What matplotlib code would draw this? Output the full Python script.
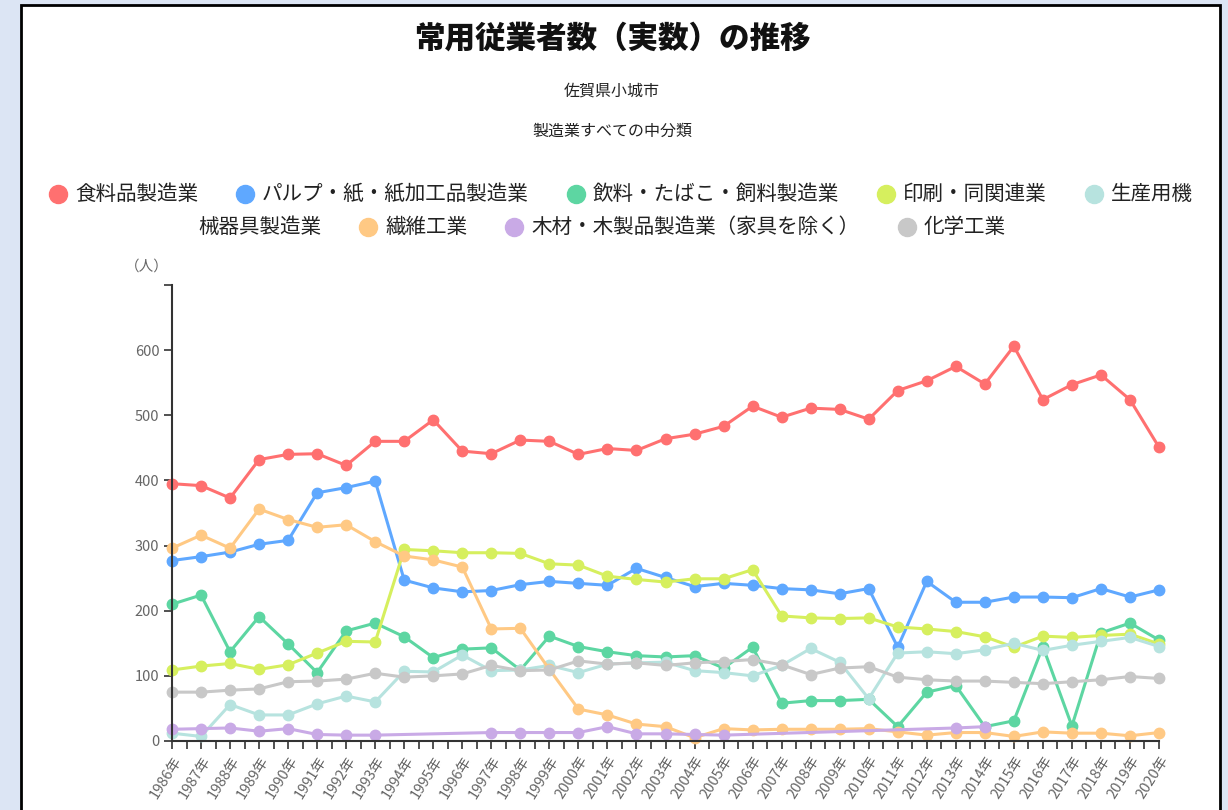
import numpy as np
import matplotlib
matplotlib.use('Agg')
import matplotlib.pyplot as plt
from matplotlib.patches import Rectangle
from matplotlib.lines import Line2D

plt.rcParams['font.family'] = ['Noto Sans CJK JP', 'DejaVu Sans']

nan = np.nan
years = np.arange(1986, 2021)
year_labels = [f'{y}年' for y in years]

names = ['食料品製造業', 'パルプ・紙・紙加工品製造業', '飲料・たばこ・飼料製造業', '印刷・同関連業',
         '生産用機械器具製造業', '繊維工業', '木材・木製品製造業（家具を除く）', '化学工業']
colors = ['#ff7070', '#5fa8ff', '#5dd6a2', '#d6ef5e', '#b7e3df', '#ffc984', '#c9aae6', '#c8c8c8']

food = [395, 392, 373, 432, 440, 441, 423, 460, 460, 493, 445, 441, 462, 460, 440, 449, 446, 464,
        471, 483, 514, 497, 511, 509, 494, 538, 553, 575, 548, 606, 524, 547, 562, 524, 451]
pulp = [277, 283, 290, 302, 308, 381, 389, 399, 247, 235, 229, 231, 240, 245, 242, 239, 265, 251,
        237, 242, 239, 234, 232, 226, 234, 144, 245, 213, 213, 221, 221, 220, 234, 221, 232]
beverage = [210, 224, 137, 191, 149, 105, 169, 181, 160, 128, 141, 143, 109, 161, 145, 137, 131, 129,
            131, 112, 144, 58, 62, 62, 64, 22, 75, 85, 22, 31, 145, 23, 166, 181, 155]
printing = [109, 115, 119, 110, 117, 135, 153, 152, 294, 292, 289, 289, 288, 272, 270, 253, 248, 244,
            249, 249, 263, 192, 189, 188, 189, 175, 172, 168, 160, 144, 161, 159, 162, 164, 149]
machinery = [12, 7, 56, 40, 40, 57, 69, 60, 107, 106, 132, 108, 109, 116, 105, 118, 120, 121,
             108, 105, 100, 116, 142, 121, 65, 135, 137, 134, 140, 150, 139, 147, 153, 159, 145]
textile = [296, 316, 296, 356, 340, 328, 332, 306, 284, 278, 267, 172, 173, 110, 49, 40, 26, 22,
           5, 19, 17, 18, 18, 18, 19, 14, 9, 13, 13, 7, 14, 12, 12, 8, 13]
wood = [18, 19, 20, 15, 19, 10, 9, 9, nan, nan, nan, 13, 13, 13, 13, 22, 11, 11,
        10, 9, nan, nan, nan, nan, nan, nan, nan, 20, 22, nan, nan, nan, nan, nan, nan]
chemical = [75, 75, 78, 80, 91, 92, 95, 104, 98, 100, 103, 116, 108, 109, 123, 118, 120, 116,
            120, 122, 125, 117, 102, 112, 114, 98, 94, 92, 92, 90, 88, 91, 94, 99, 96]

series = [food, pulp, beverage, printing, machinery, textile, wood, chemical]

W, H = 1228, 810
fig = plt.figure(figsize=(W / 100, H / 100), dpi=100)
fig.patch.set_facecolor('#dce5f4')
fig.add_artist(Rectangle((21 / W, -0.02), (1220 - 21) / W, (H - 5) / H + 0.02, zorder=-10,
                         transform=fig.transFigure, facecolor='white', edgecolor='black', lw=2))

ax = fig.add_axes([172 / W, (H - 741) / H, (1159 - 172) / W, (741 - 285) / H])
ax.patch.set_alpha(0)
for vals, c in zip(series, colors):
    v = np.array(vals, dtype=float)
    m = ~np.isnan(v)
    ax.plot(years[m], v[m], color=c, lw=2.2, marker='o', ms=7.5, mec=c, clip_on=False)

ax.set_xlim(1986, 2020)
ax.set_ylim(0, 700)
ax.set_yticks(np.arange(0, 701, 100))
ax.set_yticklabels([str(v) for v in range(0, 700, 100)] + [''])
ax.set_xticks(years)
ax.set_xticklabels(year_labels, rotation=58, ha='right', va='top', rotation_mode='anchor')
ax.set_xticks(years[:-1] + 0.5, minor=True)
ax.tick_params(axis='both', colors='#333333', labelcolor='#666666', length=6, width=1.2)
ax.tick_params(axis='x', which='minor', length=6, width=1.2, colors='#333333')
ax.tick_params(axis='x', labelsize=10.5, pad=3)
ax.tick_params(axis='y', labelsize=10.5, pad=3)
for s in ['top', 'right']:
    ax.spines[s].set_visible(False)
for s in ['left', 'bottom']:
    ax.spines[s].set_color('#333333')
    ax.spines[s].set_linewidth(1.5)

fig.text(147 / W, 1 - 267 / H, '（人）', ha='center', va='center', fontsize=10.5, color='#666666')

# titles
fig.text(612 / W, 1 - 38 / H, '常用従業者数（実数）の推移', ha='center', va='center',
         fontsize=22, weight='heavy', color='#111111')
fig.text(612 / W, 1 - 91 / H, '佐賀県小城市', ha='center', va='center', fontsize=11.5, color='#222222')
fig.text(612 / W, 1 - 131 / H, '製造業すべての中分類', ha='center', va='center', fontsize=11.5, color='#222222')

# legend, laid out like the original (5th label wraps onto the second row)
rows = [([0, 1, 2, 3, 4], 194, 621), ([4, 5, 6, 7], 227, 602)]
split = 4
renderer = fig.canvas.get_renderer()
for ri, (idx, ypix, center) in enumerate(rows):
    items = []
    for k, i in enumerate(idx):
        label = names[i]
        marker = True
        if i == 4 and ri == 0:
            label = label[:split]
        elif i == 4 and ri == 1:
            label = label[split:]
            marker = False
        t = fig.text(0, 1 - ypix / H, label, ha='left', va='center', fontsize=14.8, color='#222222')
        w = t.get_window_extent(renderer).width
        items.append((t, w, marker, colors[i]))
    total = sum((26 if mk else 0) + w for _, w, mk, _ in items) + 38 * (len(items) - 1)
    x = center - total / 2
    for t, w, mk, c in items:
        if mk:
            fig.add_artist(Line2D([(x + 9) / W], [1 - ypix / H], transform=fig.transFigure,
                                  marker='o', ms=13, color=c, lw=0))
            x += 26
        t.set_x(x / W)
        x += w + 38

fig.savefig('out.png', dpi=100, facecolor=fig.get_facecolor())
